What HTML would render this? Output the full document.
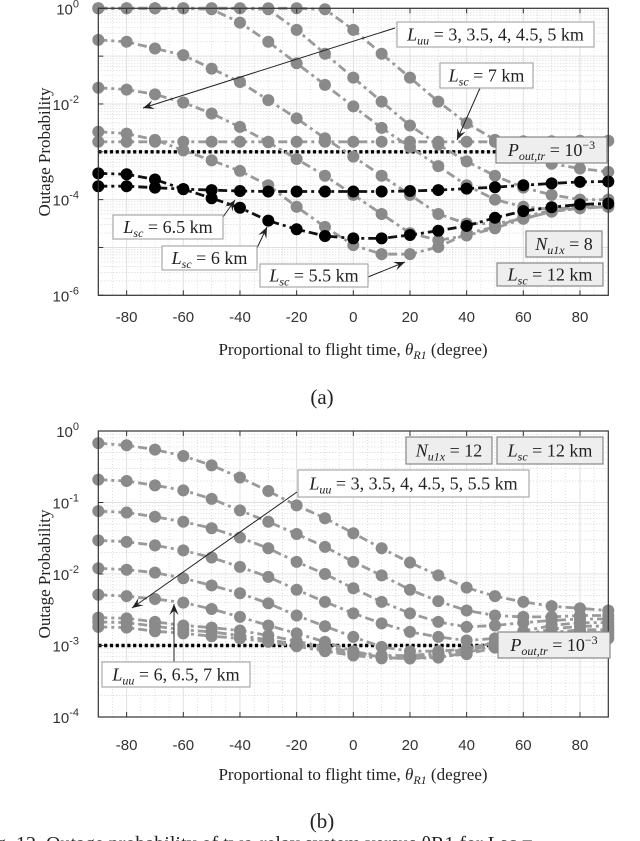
<!DOCTYPE html>
<html><head><meta charset="utf-8">
<style>
html,body{margin:0;padding:0;background:#fff;}
svg{display:block;}
.tk{font-family:"Liberation Sans",sans-serif;font-size:15px;fill:#333;}
.sr{font-family:"Liberation Serif",serif;fill:#222;}
</style></head>
<body>
<svg id="fig" width="640" height="841" viewBox="0 0 640 841" xmlns="http://www.w3.org/2000/svg">
<g id="gA"></g>
<g id="gB"></g>
</svg>
<script>
// ---------- data ----------
const thetas = [-90,-80,-70,-60,-50,-40,-30,-20,-10,0,10,20,30,40,50,60,70,80,90];
const xTicks = [-80,-60,-40,-20,0,20,40,60,80];
const xTickLabels = ['-80','-60','-40','-20','0','20','40','60','80'];
// chart (a): log10 of outage probability
const aGray1 = [0,0,0,0,0,0,0,0,-0.02,-0.45,-0.95,-1.45,-1.95,-2.4,-2.75,-3.05,-3.25,-3.35,-3.42];
const aGray2 = [0,0,0,0,0,0,-0.02,-0.45,-0.95,-1.45,-1.95,-2.45,-2.85,-3.2,-3.5,-3.75,-3.9,-4.0,-4.0];
const aGray3 = [0,0,0,0,-0.02,-0.3,-0.7,-1.15,-1.6,-2.05,-2.5,-2.9,-3.3,-3.7,-4.0,-4.15,-4.2,-4.15,-4.15];
const aGray4 = [-0.66,-0.70,-0.84,-0.98,-1.26,-1.54,-1.92,-2.3,-2.72,-3.1,-3.5,-3.9,-4.3,-4.5,-4.5,-4.4,-4.25,-4.18,-4.15];
const aGray5 = [-1.66,-1.70,-1.8,-1.97,-2.2,-2.48,-2.8,-3.15,-3.5,-3.9,-4.3,-4.7,-4.85,-4.75,-4.6,-4.4,-4.25,-4.18,-4.15];
const aGray6 = [-2.58,-2.62,-2.75,-2.97,-3.18,-3.4,-3.7,-4.15,-4.57,-4.95,-5.14,-5.14,-4.99,-4.71,-4.57,-4.36,-4.22,-4.15,-4.15];
const aLsc7 = [-2.79,-2.79,-2.79,-2.79,-2.79,-2.79,-2.79,-2.79,-2.79,-2.79,-2.79,-2.79,-2.79,-2.79,-2.79,-2.78,-2.78,-2.77,-2.77];
const aLsc65 = [-3.72,-3.72,-3.75,-3.78,-3.8,-3.82,-3.83,-3.83,-3.83,-3.83,-3.83,-3.82,-3.8,-3.77,-3.74,-3.7,-3.66,-3.63,-3.62];
const aLsc6 = [-3.45,-3.47,-3.58,-3.78,-3.97,-4.17,-4.44,-4.62,-4.76,-4.81,-4.81,-4.74,-4.65,-4.55,-4.38,-4.24,-4.16,-4.10,-4.08];
const aThreshold = -3;
const aYTicks = [0,-2,-4,-6];
// chart (b)
const bGray1 = [-0.17,-0.20,-0.26,-0.35,-0.48,-0.65,-0.84,-1.04,-1.22,-1.43,-1.64,-1.84,-2.02,-2.19,-2.31,-2.39,-2.45,-2.48,-2.51];
const bGray2 = [-0.68,-0.70,-0.76,-0.83,-0.95,-1.11,-1.27,-1.44,-1.62,-1.83,-2.02,-2.22,-2.38,-2.51,-2.58,-2.6,-2.6,-2.58,-2.58];
const bGray3 = [-1.12,-1.14,-1.20,-1.27,-1.36,-1.49,-1.64,-1.83,-2.0,-2.2,-2.39,-2.55,-2.67,-2.74,-2.72,-2.68,-2.65,-2.63,-2.63];
const bGray4 = [-1.53,-1.55,-1.60,-1.67,-1.77,-1.90,-2.04,-2.22,-2.39,-2.55,-2.69,-2.81,-2.88,-2.93,-2.9,-2.8,-2.72,-2.68,-2.68];
const bGray5 = [-1.92,-1.94,-1.98,-2.06,-2.16,-2.27,-2.41,-2.58,-2.73,-2.88,-3.02,-3.08,-3.08,-3.05,-2.96,-2.85,-2.77,-2.73,-2.73];
const bGray6 = [-2.29,-2.31,-2.35,-2.40,-2.49,-2.60,-2.72,-2.83,-2.95,-3.08,-3.17,-3.18,-3.17,-3.1,-3.0,-2.9,-2.82,-2.78,-2.78];
const bGray7 = [-2.61,-2.62,-2.67,-2.72,-2.75,-2.79,-2.86,-2.94,-3.02,-3.09,-3.14,-3.14,-3.11,-3.05,-2.95,-2.88,-2.84,-2.82,-2.82];
const bGray8 = [-2.67,-2.68,-2.73,-2.78,-2.81,-2.86,-2.92,-2.98,-3.06,-3.11,-3.16,-3.16,-3.13,-3.08,-2.98,-2.91,-2.88,-2.86,-2.86];
const bGray9 = [-2.74,-2.75,-2.80,-2.83,-2.87,-2.90,-2.95,-3.01,-3.08,-3.14,-3.18,-3.18,-3.16,-3.12,-3.03,-2.95,-2.92,-2.90,-2.90];
const bThreshold = -3;
const bYTicks = [0,-1,-2,-3,-4];

// ---------- helpers ----------
const NS='http://www.w3.org/2000/svg';
function mk(tag, parent, attrs){const e=document.createElementNS(NS,tag);for(const k in attrs)e.setAttribute(k,attrs[k]);parent.appendChild(e);return e;}
const X0=98.3, X1=608.3;
function xs(t){return X0+(t+90)*(X1-X0)/180;}

function drawChart(g, top, bottom, lmax, lmin, series, thr, yTicks, tag, axisY){
  const ys=l=>top+(lmax-l)*(bottom-top)/(lmax-lmin);
  const grid=mk('g',g,{});
  
  
  for(let d=lmax;d>lmin;d--){for(let m=2;m<10;m++){const y=ys(d-1+Math.log10(m));mk('line',grid,{x1:X0,x2:X1,y1:y,y2:y,stroke:'#c8c8c8','stroke-width':0.7,'stroke-dasharray':'1,2'});}}
  for(let t=-85;t<90;t+=5){if(t%20===0)continue;mk('line',grid,{x1:xs(t),x2:xs(t),y1:top,y2:bottom,stroke:'#d0d0d0','stroke-width':0.7,'stroke-dasharray':'1,2'});}
  for(let d=lmax;d>=lmin;d--){const y=ys(d);mk('line',grid,{x1:X0,x2:X1,y1:y,y2:y,stroke:'#e0e0e0','stroke-width':1});}
  xTicks.forEach(t=>mk('line',grid,{x1:xs(t),x2:xs(t),y1:top,y2:bottom,stroke:'#e0e0e0','stroke-width':1}));
  const th=mk('line',g,{x1:xs(-90),x2:X1,y1:ys(thr),y2:ys(thr),stroke:'#000','stroke-width':3.4,'stroke-dasharray':'3.2,2.6'});
  
  
  series.forEach(s=>{
    const sg=mk('g',g,{});
    
    
    const pts=s.v.map((l,i)=>xs(thetas[i]).toFixed(1)+','+ys(l).toFixed(1)).join(' ');
    mk('polyline',sg,{points:pts,fill:'none',stroke:s.c,'stroke-width':2.8,'stroke-dasharray':'9,4,3,4'});
    s.v.forEach((l,i)=>{const c=mk('circle',sg,{cx:xs(thetas[i]),cy:ys(l),r:6,fill:s.m});
      
      });
  });
  const ax=mk('g',g,{});
  
  
  mk('rect',ax,{x:X0,y:top,width:X1-X0,height:bottom-top,fill:'none',stroke:'#333','stroke-width':1.2});
  xTicks.forEach((t,i)=>{
    mk('line',ax,{x1:xs(t),x2:xs(t),y1:bottom,y2:bottom-5,stroke:'#333'});
    mk('line',ax,{x1:xs(t),x2:xs(t),y1:top,y2:top+5,stroke:'#333'});
    const tx=mk('text',ax,{x:xs(t),y:axisY,'text-anchor':'middle',class:'tk'});tx.textContent=xTickLabels[i];
    
    
  });
  yTicks.forEach(d=>{
    const y=ys(d);
    const tx=mk('text',ax,{x:79,y:y+6,'text-anchor':'end',class:'tk'});
    
    
    tx.textContent='10';
    const sp=mk('tspan',tx,{dy:-7,'font-size':11});sp.textContent=String(d);
  });
  for(let d=lmax;d>=lmin;d--){mk('line',ax,{x1:X0,x2:X0+5,y1:ys(d),y2:ys(d),stroke:'#333'});}
  return ys;
}

function label(g, x,y,w,h,fill,parts,name){
  const bg=mk('g',g,{});
  
  
  mk('rect',bg,{x:x,y:y,width:w,height:h,fill:fill,stroke:fill==='#fff'?'#aaa':'#888','stroke-width':1.2});
  const t=mk('text',bg,{x:x+w/2,y:y+h/2+6,'text-anchor':'middle',class:'sr','font-size':18});
  parts.forEach(p=>{const s=mk('tspan',t,p.a||{});s.textContent=p.t;});
}
function arrow(g,x1,y1,x2,y2,name){
  const ag=mk('g',g,{});
  
  
  mk('line',ag,{x1:x1,y1:y1,x2:x2,y2:y2,stroke:'#222','stroke-width':1});
  const a=Math.atan2(y2-y1,x2-x1),L=11,W=4.5;
  const bx=x2-L*Math.cos(a),by=y2-L*Math.sin(a);
  const p=[[x2,y2],[bx+W*Math.sin(a),by-W*Math.cos(a)],[x2-0.6*L*Math.cos(a),y2-0.6*L*Math.sin(a)],[bx-W*Math.sin(a),by+W*Math.cos(a)]];
  mk('polygon',ag,{points:p.map(q=>q.join(',')).join(' '),fill:'#222'});
}
const it={'font-style':'italic'};
const sub={'font-style':'italic','font-size':12,'baseline-shift':'-4'};
const up={'font-size':12,'baseline-shift':'7'};
function L(s){return [{t:'L',a:it},{t:s,a:sub}];}

// ---------- chart a ----------
const gA=document.getElementById('gA');
const G='#9a9a9a', M='#8a8a8a';
drawChart(gA,8.3,295.3,0,-6,[
  {v:aGray1,c:G,m:M,name:'a-series-gray-1'},{v:aGray2,c:G,m:M,name:'a-series-gray-2'},
  {v:aGray3,c:G,m:M,name:'a-series-gray-3'},{v:aGray4,c:G,m:M,name:'a-series-gray-4'},
  {v:aGray5,c:G,m:M,name:'a-series-gray-5'},{v:aGray6,c:G,m:M,name:'a-series-lsc-5-5'},
  {v:aLsc7,c:G,m:M,name:'a-series-lsc-7'},
  {v:aLsc65,c:'#111',m:'#000',name:'a-series-lsc-6-5'},{v:aLsc6,c:'#111',m:'#000',name:'a-series-lsc-6'}
],aThreshold,aYTicks,'a',322);
arrow(gA,395,28,143,108,'a-arrow-luu');
label(gA,397,22,197,25,'#fff',[...L('uu'),{t:' = 3, 3.5, 4, 4.5, 5 km'}],'a-label-luu');
arrow(gA,480,88,457,140,'a-arrow-lsc7');
label(gA,440,63,93,25,'#fff',[...L('sc'),{t:' = 7 km'}],'a-label-lsc-7');
label(gA,496,137,111,26,'#eee',[{t:'P',a:it},{t:'out,tr',a:sub},{t:' = 10'},{t:'−3',a:up}],'a-label-threshold');
arrow(gA,223,217,235,200,'a-arrow-lsc65');
label(gA,113,215,110,24,'#fff',[...L('sc'),{t:' = 6.5 km'}],'a-label-lsc-6-5');
arrow(gA,257,248,267,227,'a-arrow-lsc6');
label(gA,162,246,95,24,'#fff',[...L('sc'),{t:' = 6 km'}],'a-label-lsc-6');
arrow(gA,368,277,405,262,'a-arrow-lsc55');
label(gA,260,264,108,23,'#fff',[...L('sc'),{t:' = 5.5 km'}],'a-label-lsc-5-5');
label(gA,526,231,76,26,'#eee',[{t:'N',a:it},{t:'u1x',a:sub},{t:' = 8'}],'a-label-nu1x');
label(gA,497,263,106,23,'#eee',[...L('sc'),{t:' = 12 km'}],'a-label-lsc-12');
(function(){
  const t=mk('text',gA,{x:353,y:355,'text-anchor':'middle',class:'sr','font-size':17});
  
  
  [{t:'Proportional to flight time, '},{t:'θ',a:it},{t:'R1',a:sub},{t:' (degree)'}].forEach(p=>{const s=mk('tspan',t,p.a||{});s.textContent=p.t;});
  const y=mk('text',gA,{x:0,y:0,transform:'translate(50,152) rotate(-90)','text-anchor':'middle',class:'sr','font-size':17});
  
  
  y.textContent='Outage Probability';
  const c=mk('text',gA,{x:322,y:404,'text-anchor':'middle',class:'sr','font-size':21});
  
  
  c.textContent='(a)';
})();

// ---------- chart b ----------
const gB=document.getElementById('gB');
drawChart(gB,431,717,0,-4,[
  {v:bGray1,c:G,m:M,name:'b-series-luu-3'},{v:bGray2,c:G,m:M,name:'b-series-luu-3-5'},
  {v:bGray3,c:G,m:M,name:'b-series-luu-4'},{v:bGray4,c:G,m:M,name:'b-series-luu-4-5'},
  {v:bGray5,c:G,m:M,name:'b-series-luu-5'},{v:bGray6,c:G,m:M,name:'b-series-luu-5-5'},
  {v:bGray7,c:G,m:M,name:'b-series-luu-6'},{v:bGray8,c:G,m:M,name:'b-series-luu-6-5'},
  {v:bGray9,c:G,m:M,name:'b-series-luu-7'}
],bThreshold,bYTicks,'b',750);
label(gB,406,437,86,27,'#eee',[{t:'N',a:it},{t:'u1x',a:sub},{t:' = 12'}],'b-label-nu1x');
label(gB,497,437,106,27,'#eee',[...L('sc'),{t:' = 12 km'}],'b-label-lsc-12');
arrow(gB,297,492,132,608,'b-arrow-luu');
label(gB,298,470,231,27,'#fff',[...L('uu'),{t:' = 3, 3.5, 4, 4.5, 5, 5.5 km'}],'b-label-luu');
arrow(gB,174,662,174,604,'b-arrow-luu-high');
label(gB,102,662,148,25,'#fff',[...L('uu'),{t:' = 6, 6.5, 7 km'}],'b-label-luu-high');
label(gB,498,632,112,26,'#eee',[{t:'P',a:it},{t:'out,tr',a:sub},{t:' = 10'},{t:'−3',a:up}],'b-label-threshold');
(function(){
  const t=mk('text',gB,{x:353,y:780,'text-anchor':'middle',class:'sr','font-size':17});
  
  
  [{t:'Proportional to flight time, '},{t:'θ',a:it},{t:'R1',a:sub},{t:' (degree)'}].forEach(p=>{const s=mk('tspan',t,p.a||{});s.textContent=p.t;});
  const y=mk('text',gB,{x:0,y:0,transform:'translate(50,574) rotate(-90)','text-anchor':'middle',class:'sr','font-size':17});
  
  
  y.textContent='Outage Probability';
  const c=mk('text',gB,{x:322,y:828,'text-anchor':'middle',class:'sr','font-size':21});
  
  
  c.textContent='(b)';
  const f=mk('text',gB,{x:-4,y:850,class:'sr','font-size':20});
  
  
  f.textContent='g. 12.  Outage probability of two-relay system versus θR1 for Lsc =';
})();
</script>
</body></html>
